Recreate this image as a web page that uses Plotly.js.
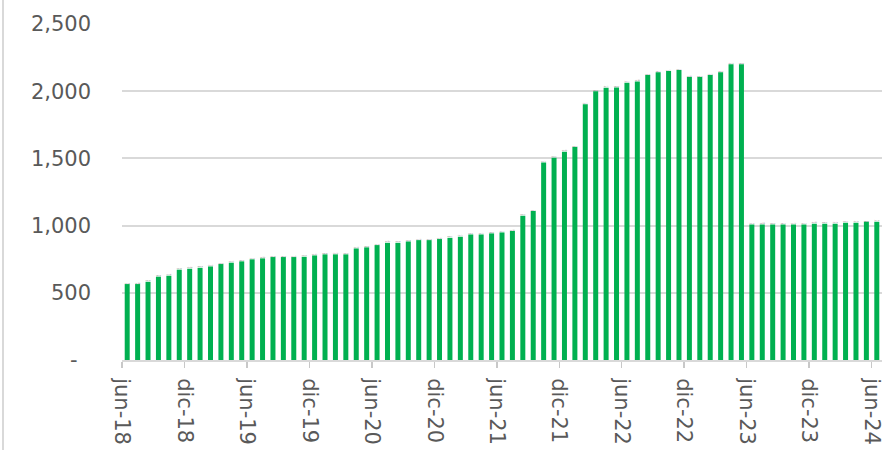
<!DOCTYPE html>
<html>
<head>
<meta charset="utf-8">
<script src="https://cdn.plot.ly/plotly-3.0.1.min.js"></script>
<style>
  html, body { margin: 0; padding: 0; background: #ffffff; }
  #wrap { position: relative; width: 885px; height: 450px; }
  #chart { width: 885px; height: 450px; }
  #border { position: absolute; left: 2px; top: 0; width: 2px; height: 450px; background: #d9d9d9; pointer-events: none; }
</style>
</head>
<body>
<div id="wrap">
  <div id="chart"></div>
  <div id="border"></div>
</div>
<script>
// Monthly values, jun-18 .. jun-24
const months = [
  "jun-18","jul-18","ago-18","sep-18","oct-18","nov-18","dic-18","ene-19","feb-19","mar-19","abr-19","may-19",
  "jun-19","jul-19","ago-19","sep-19","oct-19","nov-19","dic-19","ene-20","feb-20","mar-20","abr-20","may-20",
  "jun-20","jul-20","ago-20","sep-20","oct-20","nov-20","dic-20","ene-21","feb-21","mar-21","abr-21","may-21",
  "jun-21","jul-21","ago-21","sep-21","oct-21","nov-21","dic-21","ene-22","feb-22","mar-22","abr-22","may-22",
  "jun-22","jul-22","ago-22","sep-22","oct-22","nov-22","dic-22","ene-23","feb-23","mar-23","abr-23","may-23",
  "jun-23","jul-23","ago-23","sep-23","oct-23","nov-23","dic-23","ene-24","feb-24","mar-24","abr-24","may-24",
  "jun-24"
];
const values = [
  565,565,582,620,627,672,679,686,696,714,724,734,
  749,756,766,766,766,768,778,786,786,786,830,838,
  855,872,872,882,892,892,900,909,917,934,934,942,
  949,959,1073,1108,1470,1504,1549,1584,1903,2000,2025,2027,
  2062,2072,2121,2141,2151,2158,2106,2106,2121,2141,2201,2201,
  1009,1009,1009,1009,1009,1009,1014,1014,1014,1021,1021,1028,
  1028
];
const xTickLabels = ["jun-18","dic-18","jun-19","dic-19","jun-20","dic-20","jun-21","dic-21","jun-22","dic-22","jun-23","dic-23","jun-24"];
const yTickVals = [0, 500, 1000, 1500, 2000, 2500];
const yTickLabels = ["-\u00a0\u00a0", "500", "1,000", "1,500", "2,000", "2,500"];

const xIdx = months.map((m, i) => i);
const labelIdx = xTickLabels.map(l => months.indexOf(l) - 0.5);

const trace = {
  type: 'bar',
  x: xIdx,
  y: values,
  text: months,
  hoverinfo: 'text+y',
  marker: { color: '#00b050', line: { width: 0 } }
};

const layout = {
  width: 885,
  height: 450,
  margin: { l: 122, r: 3, t: 24, b: 90, pad: 0 },
  paper_bgcolor: '#ffffff',
  plot_bgcolor: '#ffffff',
  bargap: 0.52,
  showlegend: false,
  font: { family: 'DejaVu Sans, sans-serif', color: '#595959' },
  xaxis: {
    range: [-0.5, months.length - 0.5],
    tickmode: 'array',
    tickvals: labelIdx,
    ticktext: xTickLabels,
    tickangle: 90,
    ticks: 'outside',
    ticklen: 6,
    tickwidth: 1.5,
    tickcolor: '#c8c8c8',
    ticklabelstandoff: 6,
    showline: true,
    linecolor: '#d9d9d9',
    linewidth: 2,
    showgrid: false,
    zeroline: false,
    tickfont: { family: 'DejaVu Sans, sans-serif', size: 21, color: '#595959' },
    fixedrange: true
  },
  yaxis: {
    range: [0, 2500],
    tickmode: 'array',
    tickvals: yTickVals,
    ticktext: yTickLabels,
    ticks: '',
    showline: false,
    showgrid: true,
    gridcolor: '#d9d9d9',
    gridwidth: 2,
    zeroline: false,
    ticklabelstandoff: 30,
    tickfont: { family: 'DejaVu Sans, sans-serif', size: 21, color: '#595959' },
    fixedrange: true
  }
};

Plotly.newPlot('chart', [trace], layout, { displayModeBar: false, staticPlot: true });
</script>
</body>
</html>
